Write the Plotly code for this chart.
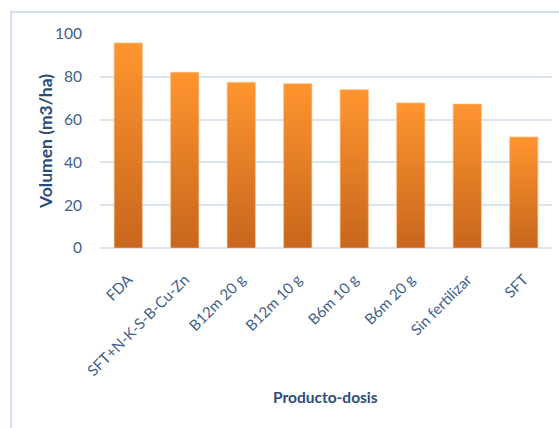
import plotly.graph_objects as go

# Volume per product/dose treatment
categories = ["FDA", "SFT+N-K-S-B-Cu-Zn", "B12m 20 g", "B12m 10 g",
              "B6m 10 g", "B6m 20 g", "Sin fertilizar", "SFT"]
volumen = [95.8, 82.1, 77.4, 76.8, 74.0, 67.8, 67.3, 51.9]
y_ticks = [0, 20, 40, 60, 80, 100]

BAR_WIDTH = 0.5
TICK_COLOR = "#41618F"
TITLE_COLOR = "#2C4C7C"
GRID_COLOR = "#D9E3F1"
FONT = "Lato"

fig = go.Figure()

# Each bar is a filled rectangle with a vertical orange gradient
for i, (cat, v) in enumerate(zip(categories, volumen)):
    x0, x1 = i - BAR_WIDTH / 2, i + BAR_WIDTH / 2
    fig.add_trace(go.Scatter(
        x=[x0, x0, x1, x1, x0],
        y=[0, v, v, 0, 0],
        mode="lines",
        fill="toself",
        fillgradient=dict(type="vertical",
                          colorscale=[[0, "#C7661D"], [1, "#FF952F"]]),
        line=dict(width=0.8, color="rgba(255,190,130,0.8)"),
        name=cat,
        hoverinfo="skip",
        showlegend=False,
    ))

fig.update_xaxes(
    range=[-0.5, len(categories) - 0.5],
    tickmode="array",
    tickvals=list(range(len(categories))),
    ticktext=categories,
    tickangle=-45,
    ticks="outside", ticklen=16, tickcolor="rgba(0,0,0,0)",
    tickfont=dict(family=FONT, size=15, color=TICK_COLOR),
    showgrid=False, zeroline=False, showline=False,
    fixedrange=True,
)
fig.update_yaxes(
    range=[0, 100],
    tickmode="array",
    tickvals=y_ticks,
    ticks="outside", ticklen=14, tickcolor="rgba(0,0,0,0)",
    tickfont=dict(family=FONT, size=15.5, color=TICK_COLOR),
    showgrid=True, gridcolor=GRID_COLOR, gridwidth=1.5,
    zeroline=True, zerolinecolor=GRID_COLOR, zerolinewidth=1.5,
    showline=False,
    fixedrange=True,
)

# Axis titles
fig.add_annotation(text="<b>Producto-dosis</b>", xref="paper", yref="paper",
                   x=0.498, y=-0.697, xanchor="center", yanchor="middle",
                   showarrow=False,
                   font=dict(family=FONT, size=15.5, color=TITLE_COLOR))
fig.add_annotation(text="<b>Volumen (m3/ha)</b>", xref="paper", yref="paper",
                   x=-0.1217, y=0.5, xanchor="center", yanchor="middle",
                   showarrow=False, textangle=-90,
                   font=dict(family=FONT, size=17.5, color=TITLE_COLOR))

# Chart frame (left and top edges)
fig.add_shape(type="path", xref="paper", yref="paper",
              path="M -0.197,-0.9 L -0.197,1.1026 L 1.03,1.1026",
              line=dict(color="#D3DFF0", width=2))

fig.update_layout(
    width=559, height=428,
    margin=dict(l=100, r=7, t=34, b=180),
    paper_bgcolor="white",
    plot_bgcolor="white",
    font=dict(family=FONT),
)

fig.write_html("out.html")
